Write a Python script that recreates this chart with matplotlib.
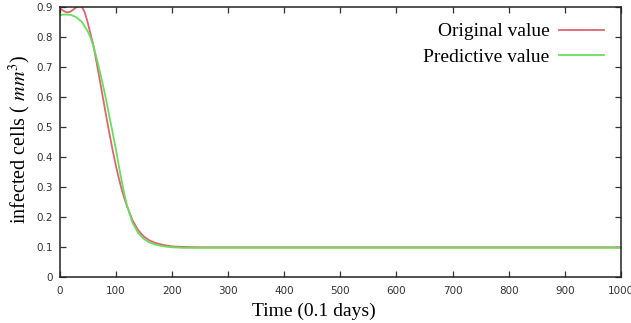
import matplotlib
matplotlib.use("Agg")
import matplotlib.pyplot as plt

# Original value (red)
t_orig = [0, 5, 10, 15, 20, 25, 30, 35, 40, 45, 50, 55, 60, 65, 70, 75, 80, 85, 90,
          95, 100, 105, 110, 115, 120, 130, 140, 150, 160, 170, 180, 190, 200, 220,
          250, 300, 400, 500, 600, 700, 800, 900, 1000]
y_orig = [0.898, 0.890, 0.884, 0.882, 0.885, 0.892, 0.899, 0.903, 0.900, 0.882, 0.850,
          0.812, 0.776, 0.726, 0.675, 0.622, 0.570, 0.518, 0.468, 0.420, 0.375, 0.335,
          0.298, 0.266, 0.238, 0.190, 0.157, 0.136, 0.123, 0.115, 0.110, 0.106, 0.103,
          0.101, 0.100, 0.100, 0.100, 0.100, 0.100, 0.100, 0.100, 0.100, 0.100]

# Predictive value (green)
t_pred = [0, 10, 20, 30, 40, 50, 55, 60, 65, 70, 75, 80, 85, 90, 95, 100, 105, 110,
          115, 120, 130, 140, 150, 160, 170, 180, 190, 200, 220, 250, 300, 400, 500,
          600, 700, 800, 900, 1000]
y_pred = [0.873, 0.875, 0.874, 0.866, 0.850, 0.820, 0.800, 0.772, 0.738, 0.700, 0.660,
          0.618, 0.572, 0.525, 0.478, 0.430, 0.378, 0.328, 0.281, 0.240, 0.182, 0.148,
          0.128, 0.116, 0.109, 0.105, 0.102, 0.100, 0.098, 0.098, 0.098, 0.098, 0.098,
          0.098, 0.098, 0.098, 0.098, 0.098]

x_ticks = [0, 100, 200, 300, 400, 500, 600, 700, 800, 900, 1000]
y_ticks = [0, 0.1, 0.2, 0.3, 0.4, 0.5, 0.6, 0.7, 0.8, 0.9]
y_tick_labels = ["0", "0.1", "0.2", "0.3", "0.4", "0.5", "0.6", "0.7", "0.8", "0.9"]

plt.rcParams['mathtext.fontset'] = 'stix'
serif = ['Liberation Serif', 'DejaVu Serif']

fig = plt.figure(figsize=(6.31, 3.23), dpi=100)
ax = fig.add_axes([59.5 / 631, 1 - 277.3 / 323, (621 - 59.5) / 631, (277.3 - 7) / 323])

ax.plot(t_orig, y_orig, color='#de6470', lw=1.3, label='Original value')
ax.plot(t_pred, y_pred, color='#66e05a', lw=1.3, label='Predictive value')

ax.set_xlim(0, 1000)
ax.set_ylim(0, 0.9)
ax.set_xticks(x_ticks)
ax.set_yticks(y_ticks)
ax.set_yticklabels(y_tick_labels)

ax.tick_params(direction='in', length=4, width=0.9, top=True, right=True,
               labelsize=7.5, labelcolor='#333333', color='#333333')
ax.tick_params(axis='x', pad=6)
ax.tick_params(axis='y', pad=5)
for lab in ax.get_xticklabels() + ax.get_yticklabels():
    lab.set_fontfamily('DejaVu Sans')
for s in ax.spines.values():
    s.set_color('#222222')
    s.set_linewidth(1.1)

ax.set_xlabel('Time (0.1 days)', fontsize=14, family=serif)
ax.xaxis.set_label_coords((314 - 59.5) / 561.5, -0.095)
ax.set_ylabel('infected cells ( $mm^3$)', fontsize=14.5, family=serif)
ax.yaxis.set_label_coords((33 - 59.5) / 561.5, 0.51)

leg = ax.legend(loc='upper right', frameon=False, markerfirst=False,
                prop={'family': serif, 'size': 14}, handlelength=2.3,
                handletextpad=0.5, labelspacing=0.42, borderaxespad=0.0,
                borderpad=0.3, bbox_to_anchor=(0.98, 0.963))

fig.savefig('out.png', dpi=100)
